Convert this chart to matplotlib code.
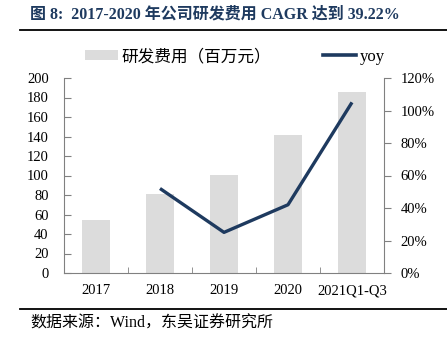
import matplotlib.pyplot as plt
from matplotlib.lines import Line2D
from matplotlib.patches import Patch
from matplotlib.ticker import FuncFormatter, FixedLocator


plt.rcParams["font.family"] = ["Liberation Serif", "Noto Sans CJK SC"]

CATEGORIES = ["2017", "2018", "2019", "2020", "2021Q1-Q3"]
RD_EXPENSE = [54, 81, 101, 142, 186]
YOY_CATS = ["2018", "2019", "2020", "2021Q1-Q3"]
YOY = [0.52, 0.25, 0.42, 1.05]

TITLE = "图 8:  2017-2020 年公司研发费用 CAGR 达到 39.22%"
SOURCE = "数据来源：Wind，东吴证券研究所"

BAR_COLOR = "#dcdcdc"
LINE_COLOR = "#1e3a5f"
AXIS_COLOR = "#808080"


def main():
    fig = plt.figure(figsize=(4.47, 3.46), dpi=100)
    ax = fig.add_axes([64 / 447, 73 / 346, 320 / 447, 195 / 346])
    ax2 = ax.twinx()

    x = list(range(len(CATEGORIES)))
    ax.bar(x, RD_EXPENSE, width=0.44, color=BAR_COLOR, zorder=1)
    yoy_x = [CATEGORIES.index(c) for c in YOY_CATS]
    ax2.plot(yoy_x, YOY, color=LINE_COLOR, linewidth=2.4, solid_capstyle="butt")

    ax.set_xlim(-0.5, len(CATEGORIES) - 0.5)
    ax.set_ylim(0, 200)
    ax.set_yticks(range(0, 201, 20))
    ax2.set_ylim(0, 1.2)
    ax2.set_yticks([i / 10 for i in range(0, 13, 2)])
    ax2.yaxis.set_major_formatter(FuncFormatter(lambda v, _: f"{v * 100:.0f}%"))

    ax.set_xticks(x)
    ax.set_xticklabels(CATEGORIES)
    ax.xaxis.set_minor_locator(FixedLocator([i + 0.5 for i in range(len(CATEGORIES) - 1)]))
    ax.tick_params(axis="x", which="major", length=0, pad=8, labelsize=10.5)
    ax.tick_params(axis="x", which="minor", direction="in", length=4, color=AXIS_COLOR)
    ax.tick_params(axis="y", direction="in", length=5, color=AXIS_COLOR, pad=11, labelsize=10.5)
    ax2.tick_params(axis="y", direction="out", length=5, color=AXIS_COLOR, pad=7, labelsize=10.5)

    for a in (ax, ax2):
        a.spines["top"].set_visible(False)
        for side in ("left", "right", "bottom"):
            a.spines[side].set_color(AXIS_COLOR)
    ax.spines["right"].set_visible(False)
    ax2.spines["left"].set_visible(False)
    ax2.spines["bottom"].set_visible(False)

    handles = [
        Patch(facecolor=BAR_COLOR, edgecolor="none"),
        Line2D([], [], color=LINE_COLOR, linewidth=2.6),
    ]
    fig.legend(handles, ["研发费用（百万元）", "yoy"], ncol=2, frameon=False,
               loc="center", bbox_to_anchor=(235 / 447, 1 - 57 / 346), fontsize=12,
               handlelength=2.0, handleheight=0.6, handletextpad=0.2,
               columnspacing=3.1, bbox_transform=fig.transFigure)

    fig.text(30 / 447, 1 - 15 / 346, TITLE, fontsize=11.5, fontweight="bold",
             color=LINE_COLOR, va="center", ha="left")
    fig.add_artist(Line2D([20 / 447, 1], [1 - 30 / 346] * 2, color="black", linewidth=1.3))
    fig.add_artist(Line2D([20 / 447, 1], [1 - 309 / 346] * 2, color="black", linewidth=1.3))
    fig.text(30 / 447, 1 - 324 / 346, SOURCE, fontsize=11.5, va="center", ha="left")

    fig.savefig("out.png", dpi=100)
    plt.close(fig)


if __name__ == "__main__":
    main()
